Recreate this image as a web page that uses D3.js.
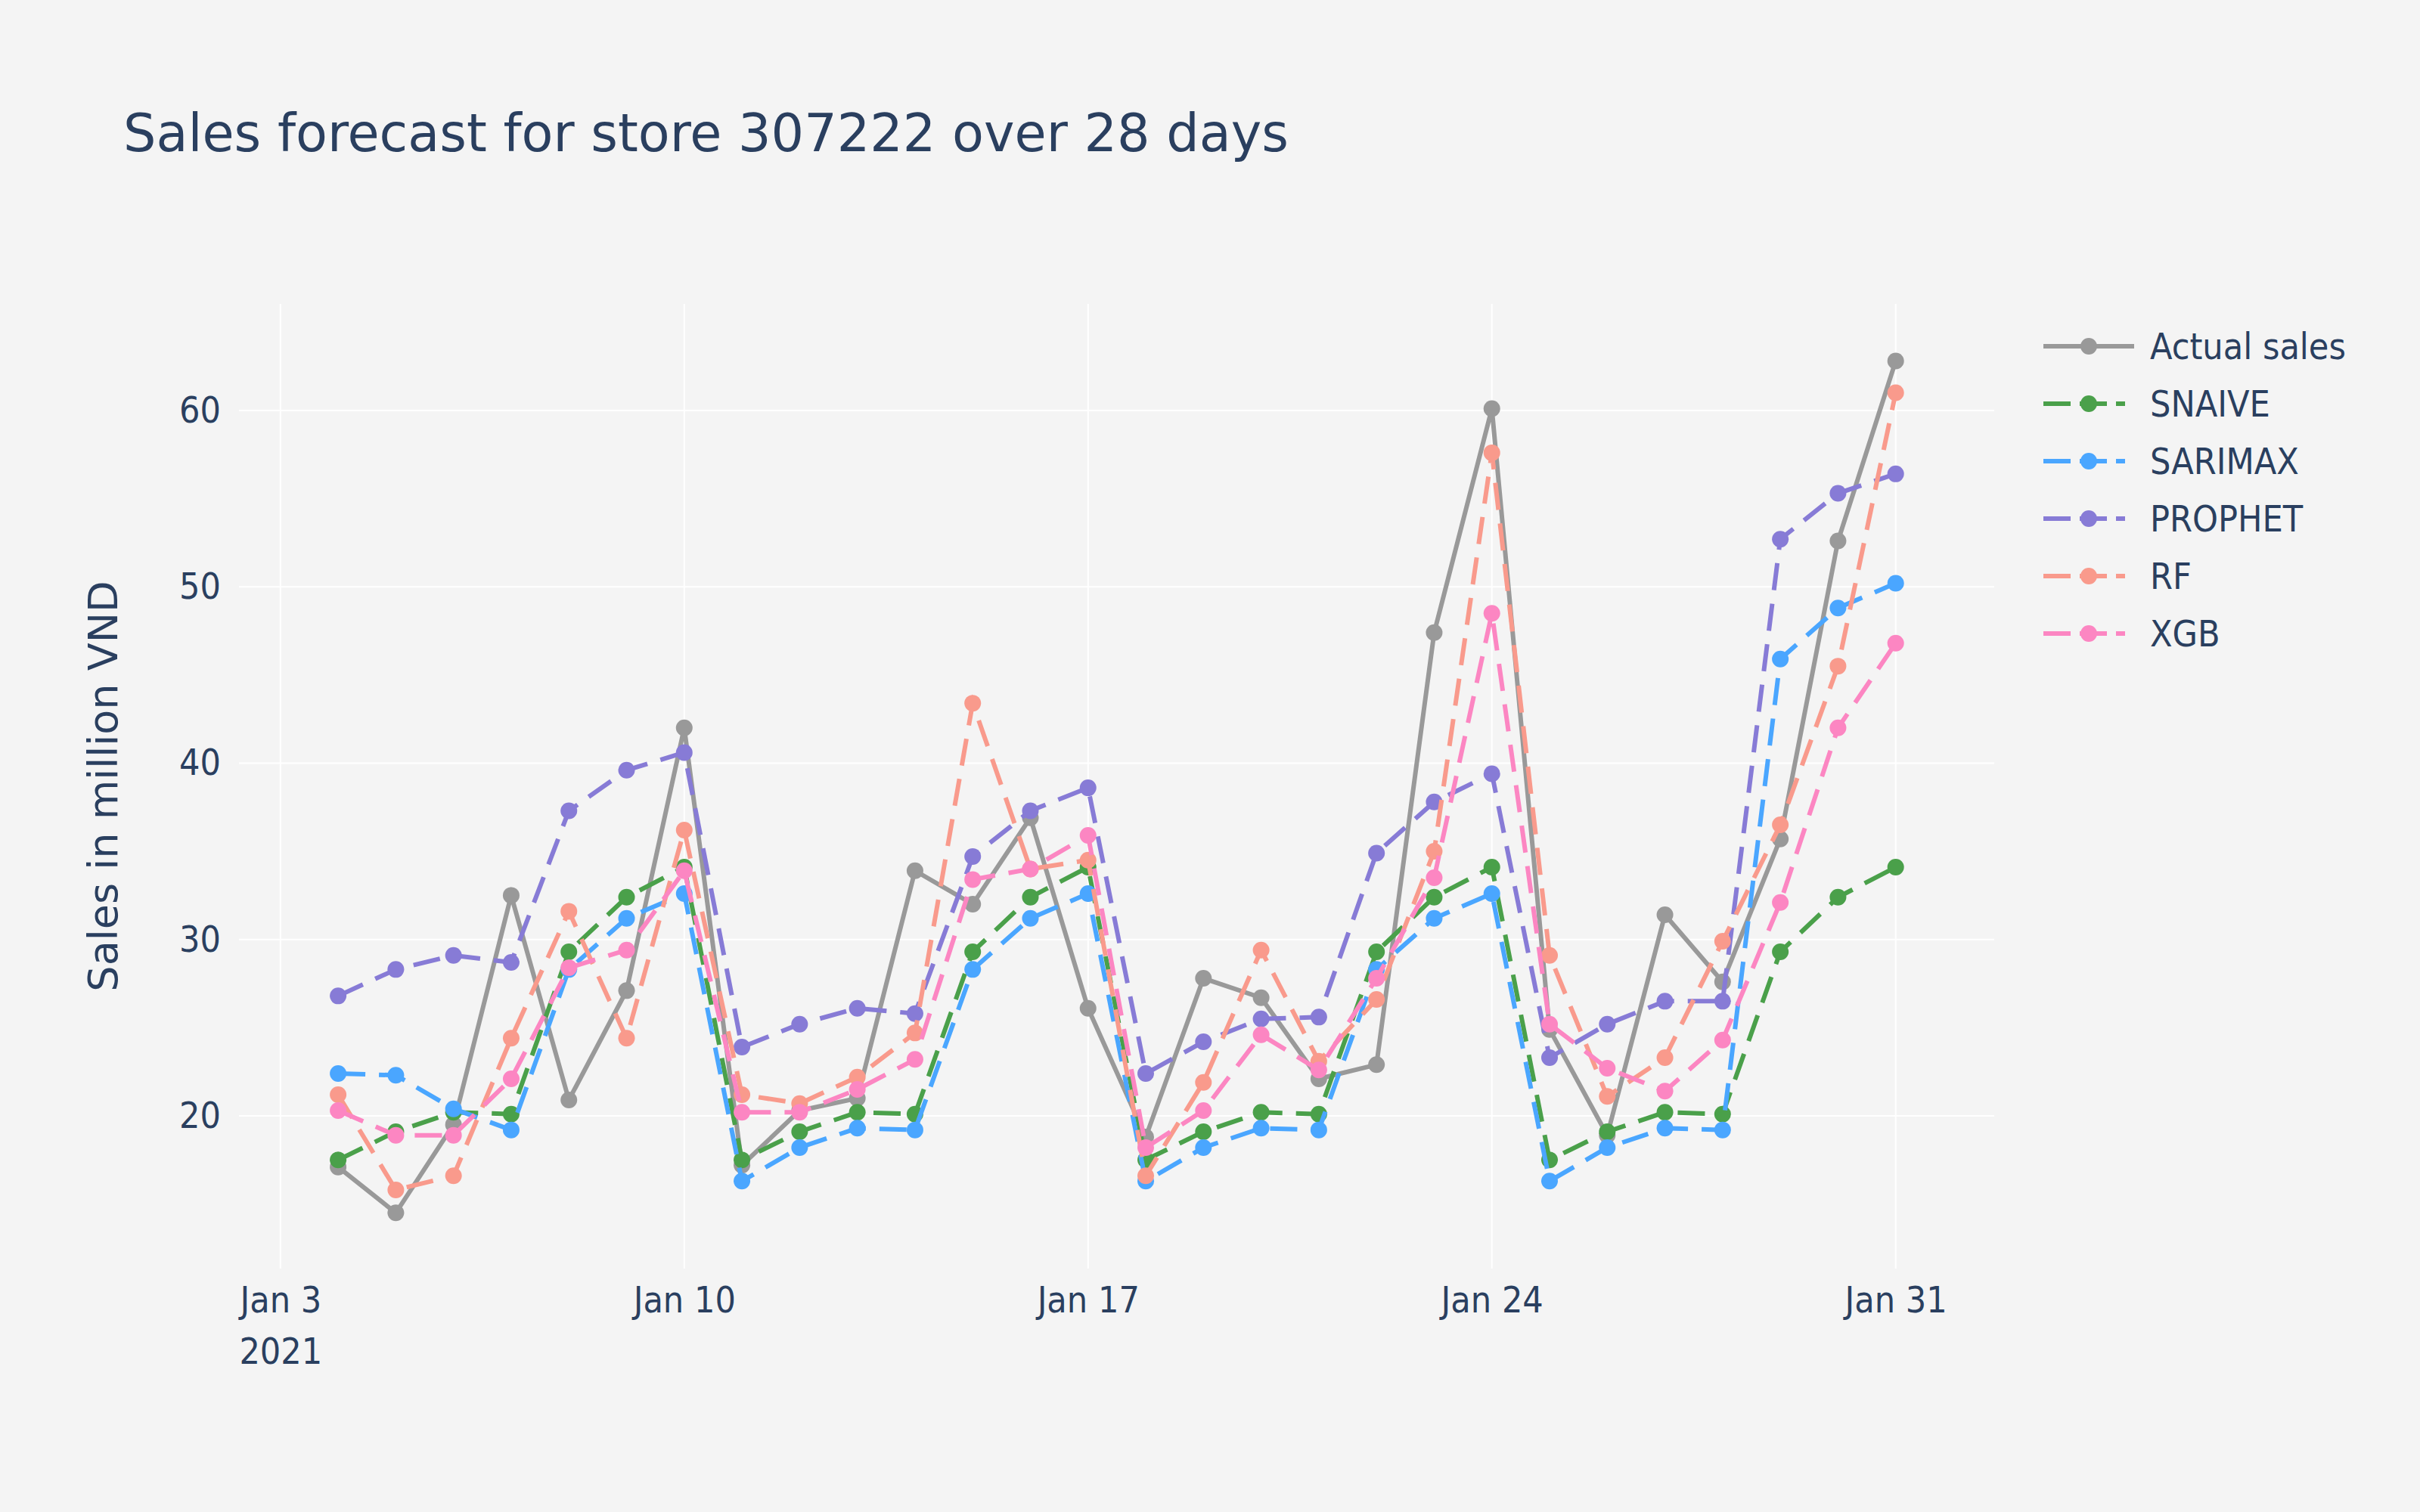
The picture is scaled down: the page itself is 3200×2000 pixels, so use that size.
<!DOCTYPE html>
<html>
<head>
<meta charset="utf-8">
<script src="https://cdn.jsdelivr.net/npm/d3@7"></script>
<style>
  body { margin: 0; background: #f4f4f4; }
  text { font-family: "DejaVu Sans Condensed", "DejaVu Sans", sans-serif; font-stretch: condensed; fill: #2a3f5f; }
  text.ytitle { font-family: "DejaVu Sans", sans-serif; font-stretch: normal; }
</style>
</head>
<body>
<svg id="chart"></svg>
<script>
const width = 3200, height = 2000;
const margin = { top: 402, right: 563, bottom: 322, left: 316 };

// dates Jan 4 .. Jan 31, 2021
const days = d3.range(4, 32).map(d => new Date(2021, 0, d));

const actual  = [17.1, 14.5, 19.5, 32.5, 20.9, 27.1, 42.0, 17.2, 20.3, 21.0, 33.9, 32.0, 36.9, 26.1, 18.8, 27.8, 26.7, 22.1, 22.9, 47.4, 60.1, 24.9, 18.9, 31.4, 27.6, 35.7, 52.6, 62.8];
const snaive  = [17.5, 19.1, 20.2, 20.1, 29.3, 32.4, 34.1, 17.5, 19.1, 20.2, 20.1, 29.3, 32.4, 34.1, 17.5, 19.1, 20.2, 20.1, 29.3, 32.4, 34.1, 17.5, 19.1, 20.2, 20.1, 29.3, 32.4, 34.1];
const sarimax = [22.4, 22.3, 20.4, 19.2, 28.3, 31.2, 32.6, 16.3, 18.2, 19.3, 19.2, 28.3, 31.2, 32.6, 16.3, 18.2, 19.3, 19.2, 28.3, 31.2, 32.6, 16.3, 18.2, 19.3, 19.2, 45.9, 48.8, 50.2];
const prophet = [26.8, 28.3, 29.1, 28.7, 37.3, 39.6, 40.6, 23.9, 25.2, 26.1, 25.8, 34.7, 37.3, 38.6, 22.4, 24.2, 25.5, 25.6, 34.9, 37.8, 39.4, 23.3, 25.2, 26.5, 26.5, 52.7, 55.3, 56.4];
const rf      = [21.2, 15.8, 16.6, 24.4, 31.6, 24.4, 36.2, 21.2, 20.7, 22.2, 24.7, 43.4, 34.0, 34.5, 16.6, 21.9, 29.4, 23.1, 26.6, 35.0, 57.6, 29.1, 21.1, 23.3, 29.9, 36.5, 45.5, 61.0];
const xgb     = [20.3, 18.9, 18.9, 22.1, 28.4, 29.4, 33.9, 20.2, 20.2, 21.5, 23.2, 33.4, 34.0, 35.9, 18.2, 20.3, 24.6, 22.6, 27.8, 33.5, 48.5, 25.2, 22.7, 21.4, 24.3, 32.1, 42.0, 46.8];

const seriesNames = ["Actual sales", "SNAIVE", "SARIMAX", "PROPHET", "RF", "XGB"];
const seriesValues = [actual, snaive, sarimax, prophet, rf, xgb];
const colors = ["#999999", "#4aa04a", "#4aa6ff", "#877bd6", "#f99a8c", "#fc86c2"];
const yTicks = [20, 30, 40, 50, 60];
const xTicks = [3, 10, 17, 24, 31].map(d => new Date(2021, 0, d));

const svg = d3.select('#chart').attr('width', width).attr('height', height);
svg.append('rect').attr('width', width).attr('height', height).attr('fill', '#f4f4f4');

const iw = width - margin.left - margin.right;
const ih = height - margin.top - margin.bottom;

const x = d3.scaleTime()
    .domain([new Date(2021, 0, 2, 6, 45), new Date(2021, 1, 1, 17)])
    .range([0, iw]);
const y = d3.scaleLinear().domain([11.34, 66.04]).range([ih, 0]);

const g = svg.append('g').attr('transform', `translate(${margin.left},${margin.top})`);

// grid
g.selectAll('line.gx').data(xTicks).enter().append('line')
    .attr('x1', d => x(d)).attr('x2', d => x(d)).attr('y1', 0).attr('y2', ih)
    .attr('stroke', '#fff').attr('stroke-width', 2);
g.selectAll('line.gy').data(yTicks).enter().append('line')
    .attr('x1', 0).attr('x2', iw).attr('y1', d => y(d)).attr('y2', d => y(d))
    .attr('stroke', '#fff').attr('stroke-width', 2);

// axes
const fmt = d3.timeFormat('%b %-d');
const xAxis = g.append('g').attr('transform', `translate(0,${ih})`)
    .call(d3.axisBottom(x).tickValues(xTicks).tickSize(0).tickPadding(24).tickFormat(fmt));
xAxis.select('.domain').remove();
xAxis.selectAll('text').style('font-size', '48px').attr('fill', '#2a3f5f');
xAxis.selectAll('.tick').filter((d, i) => i === 0).append('text')
    .attr('y', 126).attr('text-anchor', 'middle').style('font-size', '48px').text('2021');

const yAxis = g.append('g')
    .call(d3.axisLeft(y).tickValues(yTicks).tickSize(0).tickPadding(24));
yAxis.select('.domain').remove();
yAxis.selectAll('text').style('font-size', '48px').attr('fill', '#2a3f5f');

svg.append('text').attr('class', 'ytitle')
    .attr('transform', `translate(155,${margin.top + ih / 2}) rotate(-90)`)
    .attr('text-anchor', 'middle').style('font-size', '54px')
    .text('Sales in million VND');

svg.append('text').attr('x', 163).attr('y', 200)
    .attr('textLength', 1541).attr('lengthAdjust', 'spacingAndGlyphs')
    .style('font-size', '70px').text('Sales forecast for store 307222 over 28 days');

// series
const line = d3.line().x(d => x(d.date)).y(d => y(d.value));
seriesValues.forEach((vals, i) => {
    const pts = vals.map((v, j) => ({ date: days[j], value: v }));
    g.append('path').datum(pts)
        .attr('d', line).attr('fill', 'none')
        .attr('stroke', colors[i]).attr('stroke-width', 6)
        .attr('stroke-dasharray', i === 0 ? null : '36,18');
    g.selectAll(null).data(pts).enter().append('circle')
        .attr('cx', d => x(d.date)).attr('cy', d => y(d.value)).attr('r', 11)
        .attr('fill', colors[i]);
});

// legend
const legend = svg.append('g').attr('transform', 'translate(2702,458)');
seriesNames.forEach((name, i) => {
    const row = legend.append('g').attr('transform', `translate(0,${i * 76})`);
    row.append('line').attr('x1', 0).attr('x2', i === 0 ? 120 : 108)
        .attr('stroke', colors[i]).attr('stroke-width', 6)
        .attr('stroke-dasharray', i === 0 ? null : '36,12');
    row.append('circle').attr('cx', 60).attr('r', 11).attr('fill', colors[i]);
    row.append('text').attr('x', 141).attr('y', 17).style('font-size', '48px').text(name);
});
</script>
</body>
</html>
